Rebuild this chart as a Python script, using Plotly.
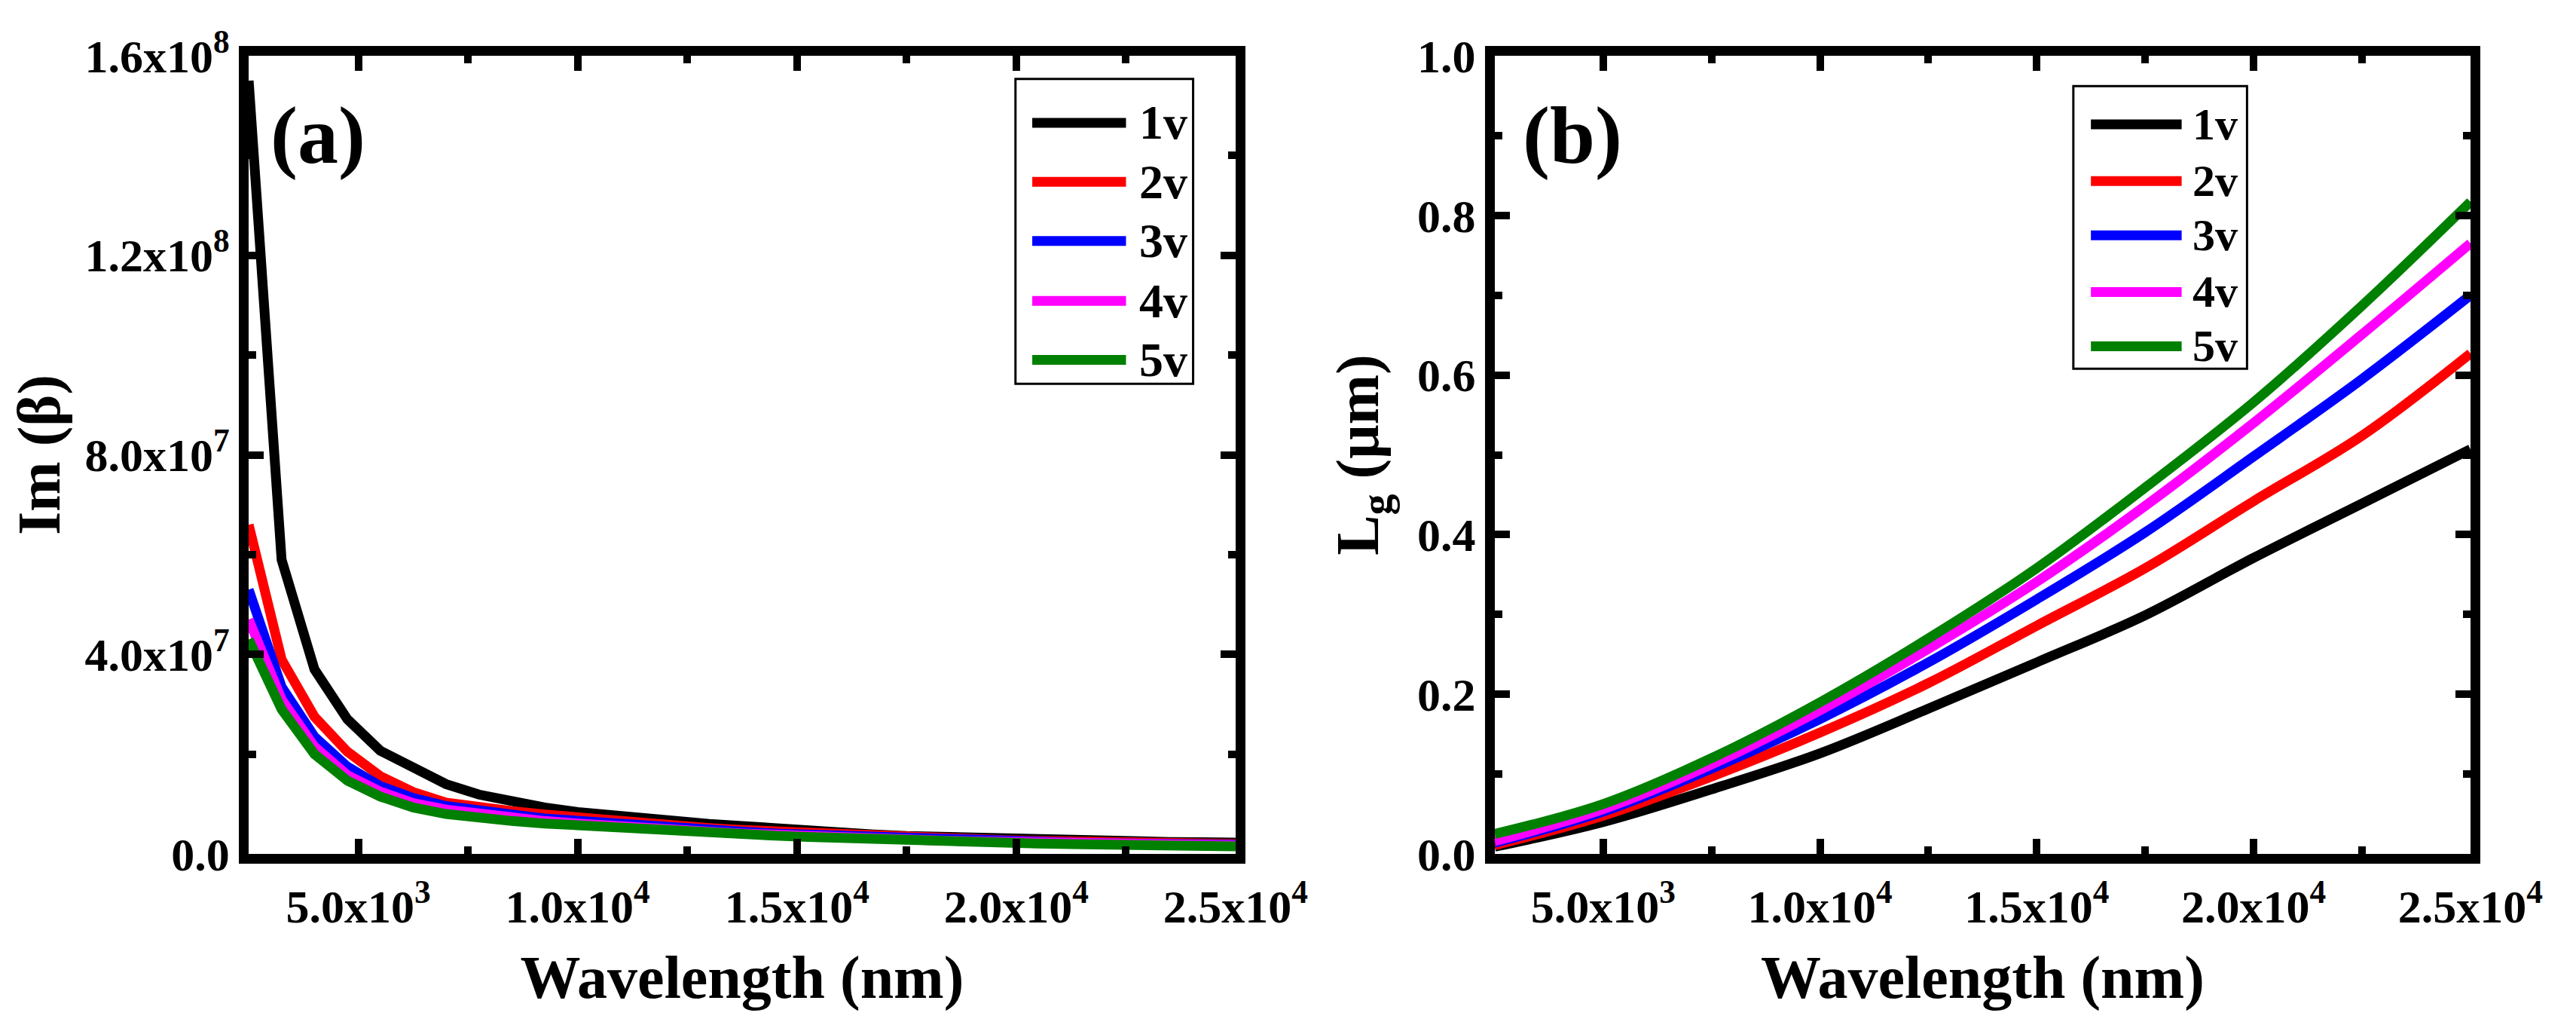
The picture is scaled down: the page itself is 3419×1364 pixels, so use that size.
import plotly.graph_objects as go

# ---- data ----
series_names = ["1v", "2v", "3v", "4v", "5v"]
series_colors = ["#000000", "#ff0000", "#0000ff", "#ff00ff", "#008000"]

# (a) Im(beta) vs wavelength
lam_a = [2500, 3250, 4000, 4750, 5500, 6250, 7000, 7750, 8500, 9250, 10000,
         10750, 11500, 12250, 13000, 13750, 14500, 15250, 16000, 16750, 17500,
         18250, 19000, 19750, 20500, 21250, 22000, 22750, 23500, 24250, 25000]
im_1v = [1.55e8, 5.9e7, 3.7e7, 2.7e7, 2.07e7, 1.71e7, 1.40e7, 1.19e7, 1.04e7, 9.3e6, 8.4e6,
         7.7e6, 7.0e6, 6.5e6, 6.0e6, 5.6e6, 5.1e6, 4.7e6, 4.3e6, 3.9e6, 3.6e6,
         3.4e6, 3.2e6, 3.0e6, 2.85e6, 2.7e6, 2.58e6, 2.48e6, 2.4e6, 2.33e6, 2.27e6]
im_2v = [6.6e7, 3.9e7, 2.75e7, 2.05e7, 1.56e7, 1.24e7, 1.03e7, 9.3e6, 8.6e6, 7.9e6, 7.3e6,
         6.8e6, 6.2e6, 5.7e6, 5.2e6, 4.8e6, 4.5e6, 4.2e6, 3.9e6, 3.6e6, 3.35e6,
         3.1e6, 2.9e6, 2.75e6, 2.6e6, 2.45e6, 2.33e6, 2.22e6, 2.13e6, 2.06e6, 2.0e6]
im_3v = [5.3e7, 3.35e7, 2.35e7, 1.75e7, 1.36e7, 1.12e7, 9.6e6, 8.6e6, 7.9e6, 7.1e6, 6.6e6,
         6.1e6, 5.6e6, 5.2e6, 4.8e6, 4.45e6, 4.1e6, 3.85e6, 3.6e6, 3.35e6, 3.1e6,
         2.9e6, 2.7e6, 2.55e6, 2.4e6, 2.27e6, 2.15e6, 2.05e6, 1.97e6, 1.9e6, 1.84e6]
im_4v = [4.7e7, 3.1e7, 2.15e7, 1.58e7, 1.25e7, 1.02e7, 8.9e6, 8.0e6, 7.3e6, 6.6e6, 6.1e6,
         5.6e6, 5.2e6, 4.8e6, 4.45e6, 4.1e6, 3.8e6, 3.55e6, 3.3e6, 3.1e6, 2.9e6,
         2.7e6, 2.52e6, 2.38e6, 2.25e6, 2.12e6, 2.0e6, 1.92e6, 1.84e6, 1.77e6, 1.7e6]
im_5v = [4.3e7, 2.9e7, 2.0e7, 1.47e7, 1.15e7, 9.3e6, 8.0e6, 7.1e6, 6.6e6, 6.1e6, 5.7e6,
         5.3e6, 4.9e6, 4.55e6, 4.25e6, 3.95e6, 3.65e6, 3.4e6, 3.15e6, 2.9e6, 2.67e6,
         2.5e6, 2.35e6, 2.2e6, 2.07e6, 1.97e6, 1.88e6, 1.77e6, 1.68e6, 1.58e6, 1.5e6]

# (b) Lg (um) vs wavelength
lam_b = [2500, 5000, 7500, 10000, 12500, 15000, 17500, 20000, 22500, 25000]
lg_1v = [0.009, 0.040, 0.081, 0.126, 0.182, 0.240, 0.299, 0.371, 0.439, 0.507]
lg_2v = [0.011, 0.048, 0.097, 0.152, 0.214, 0.286, 0.358, 0.442, 0.524, 0.627]
lg_3v = [0.014, 0.053, 0.107, 0.169, 0.240, 0.319, 0.403, 0.498, 0.595, 0.700]
lg_4v = [0.016, 0.056, 0.112, 0.180, 0.257, 0.341, 0.436, 0.540, 0.651, 0.765]
lg_5v = [0.025, 0.0625, 0.120, 0.190, 0.270, 0.358, 0.459, 0.566, 0.687, 0.817]

# ticks
x_tickvals = [5000, 10000, 15000, 20000, 25000]
x_ticktext = ["5.0x10<sup>3</sup>", "1.0x10<sup>4</sup>", "1.5x10<sup>4</sup>",
              "2.0x10<sup>4</sup>", "2.5x10<sup>4</sup>"]
x_minor = [7500, 12500, 17500, 22500]
ya_tickvals = [0, 4e7, 8e7, 1.2e8, 1.6e8]
ya_ticktext = ["0.0", "4.0x10<sup>7</sup>", "8.0x10<sup>7</sup>",
               "1.2x10<sup>8</sup>", "1.6x10<sup>8</sup>"]
ya_minor = [2e7, 6e7, 1.0e8, 1.4e8]
yb_tickvals = [0, 0.2, 0.4, 0.6, 0.8, 1.0]
yb_ticktext = ["0.0", "0.2", "0.4", "0.6", "0.8", "1.0"]
yb_minor = [0.1, 0.3, 0.5, 0.7, 0.9]

FONT = "Liberation Serif"

fig = go.Figure()

for name, ys, col in zip(series_names, [im_1v, im_2v, im_3v, im_4v, im_5v], series_colors):
    fig.add_trace(go.Scatter(x=lam_a, y=ys, name=name, mode="lines",
                             line=dict(color=col, width=13),
                             xaxis="x", yaxis="y", showlegend=False))

for name, ys, col in zip(series_names, [lg_1v, lg_2v, lg_3v, lg_4v, lg_5v], series_colors):
    fig.add_trace(go.Scatter(x=lam_b, y=ys, name=name, mode="lines",
                             line=dict(color=col, width=13, shape="spline"),
                             xaxis="x2", yaxis="y2", showlegend=False))


def axis_style(tickvals, ticktext, minorvals, rng, domain, anchor, title, standoff, labelgap):
    return dict(
        range=rng, domain=domain, anchor=anchor, automargin=False,
        showline=True, linewidth=13, linecolor="black", mirror="ticks",
        ticks="inside", ticklen=20, tickwidth=10, tickcolor="black",
        tickmode="array", tickvals=tickvals, ticktext=ticktext,
        ticklabelstandoff=labelgap,
        tickfont=dict(family=FONT, size=62, color="black", weight="bold"),
        minor=dict(tickmode="array", tickvals=minorvals, ticks="inside",
                   ticklen=10, tickwidth=10, tickcolor="black"),
        showgrid=False, zeroline=False,
        title=dict(text=title, standoff=standoff,
                   font=dict(family=FONT, size=80, color="black", weight="bold")),
    )


fig.update_layout(
    width=3419, height=1364,
    margin=dict(l=0, r=0, t=0, b=0, autoexpand=False),
    paper_bgcolor="white", plot_bgcolor="white",
    showlegend=False,
    xaxis=axis_style(x_tickvals, x_ticktext, x_minor, [2500, 25000],
                     [0.0942, 0.4773], "y", "Wavelength (nm)", 37, 4),
    yaxis=axis_style(ya_tickvals, ya_ticktext, ya_minor, [0, 1.6e8],
                     [0.1752, 0.9516], "x", "Im (\u03b2)", 30, 0),
    xaxis2=axis_style(x_tickvals, x_ticktext, x_minor, [2500, 25000],
                      [0.5779, 0.9567], "y2", "Wavelength (nm)", 37, 4),
    yaxis2=axis_style(yb_tickvals, yb_ticktext, yb_minor, [0, 1.0],
                      [0.1752, 0.9516], "x2", "L<sub>g</sub> (\u03bcm)", 30, 0),
)

# panel labels
for xref, yref, txt, xpos in [("x domain", "y domain", "(a)", 0.070),
                              ("x2 domain", "y2 domain", "(b)", 0.080)]:
    fig.add_annotation(x=xpos, y=0.90, xref=xref, yref=yref, text=txt,
                       showarrow=False, xanchor="center", yanchor="middle",
                       font=dict(family=FONT, size=108, color="black", weight="bold"))

# hand-made legends (long line samples like the original)
legends = [
    dict(xr="x domain", yr="y domain", box=(0.777, 0.957, 0.589, 0.971),
         line=(0.794, 0.889), tx=0.901, ys=[0.916, 0.842, 0.768, 0.693, 0.619], fs=64),
    dict(xr="x2 domain", yr="y2 domain", box=(0.593, 0.771, 0.608, 0.962),
         line=(0.611, 0.704), tx=0.7135, ys=[0.914, 0.843, 0.775, 0.704, 0.636], fs=60),
]
for lg in legends:
    x0, x1, y0, y1 = lg["box"]
    fig.add_shape(type="rect", xref=lg["xr"], yref=lg["yr"], x0=x0, x1=x1, y0=y0, y1=y1,
                  line=dict(color="black", width=3))
    for name, col, yy in zip(series_names, series_colors, lg["ys"]):
        fig.add_shape(type="line", xref=lg["xr"], yref=lg["yr"],
                      x0=lg["line"][0], x1=lg["line"][1], y0=yy, y1=yy,
                      line=dict(color=col, width=13))
        fig.add_annotation(x=lg["tx"], y=yy, xref=lg["xr"], yref=lg["yr"], text=name,
                           showarrow=False, xanchor="left", yanchor="middle",
                           font=dict(family=FONT, size=lg["fs"], color="black", weight="bold"))

fig.write_html("out.html")
